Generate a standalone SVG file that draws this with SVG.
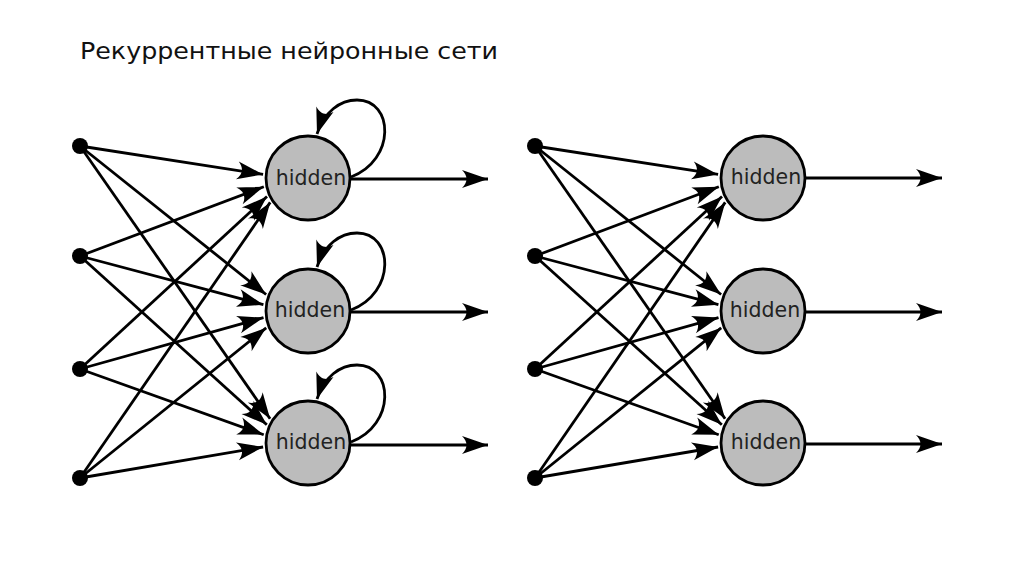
<svg xmlns="http://www.w3.org/2000/svg" width="1024" height="576" viewBox="0 0 1024 576">
<defs>
<marker id="ah" markerUnits="userSpaceOnUse" viewBox="-27 -10 29 20" markerWidth="29" markerHeight="20" refX="0" refY="0" orient="auto">
<path d="M0,0 L-26,-9 C-20,-3 -20,3 -26,9 Z" fill="#000"/>
</marker>
<style>
.c{fill:none;stroke:#000;stroke-width:2.8;marker-end:url(#ah)}
.dot{fill:#000}
.hn{fill:#bcbcbc;stroke:#000;stroke-width:2.8}
.lb{font-family:"DejaVu Sans",sans-serif;font-size:20.5px;fill:#222;text-anchor:middle}
.title{font-family:"DejaVu Sans",sans-serif;font-size:22.5px;fill:#111}
</style>
</defs>
<rect width="1024" height="576" fill="#fff"/>
<text class="title" x="80" y="59" textLength="418" lengthAdjust="spacingAndGlyphs">Рекуррентные нейронные сети</text>
<g id="connectors">
<path class="c" d="M80,146 L263.1,174.4"/>
<path class="c" d="M80,256 L263.8,186.7"/>
<path class="c" d="M80,369 L267,196.5"/>
<path class="c" d="M80,478 L270.2,202.4"/>
<path class="c" d="M80,146 L266.1,294.5"/>
<path class="c" d="M80,256 L263.4,304.7"/>
<path class="c" d="M80,369 L263.5,317.6"/>
<path class="c" d="M80,478 L266.2,327.8"/>
<path class="c" d="M80,146 L270.1,418.8"/>
<path class="c" d="M80,256 L266.8,424.8"/>
<path class="c" d="M80,369 L263.7,434.7"/>
<path class="c" d="M80,478 L263.1,447"/>
<path class="c" d="M350,179 L488,179"/>
<path class="c" d="M350,312 L488,312"/>
<path class="c" d="M350,445 L488,445"/>
<path class="c" d="M351,177 C396,160 394,100 357,100 C340,100 324,112 317,134"/>
<path class="c" d="M351,310 C396,293 394,233 357,233 C340,233 324,245 317,267"/>
<path class="c" d="M351,442 C396,425 394,365 357,365 C340,365 324,377 317,399"/>
<path class="c" d="M535,146 L718.1,174.4"/>
<path class="c" d="M535,256 L718.8,186.7"/>
<path class="c" d="M535,369 L722,196.5"/>
<path class="c" d="M535,478 L725.2,202.4"/>
<path class="c" d="M535,146 L721.1,294.5"/>
<path class="c" d="M535,256 L718.4,304.7"/>
<path class="c" d="M535,369 L718.5,317.6"/>
<path class="c" d="M535,478 L721.2,327.8"/>
<path class="c" d="M535,146 L725.1,418.8"/>
<path class="c" d="M535,256 L721.8,424.8"/>
<path class="c" d="M535,369 L718.7,434.7"/>
<path class="c" d="M535,478 L718.1,447"/>
<path class="c" d="M805,178 L942,178"/>
<path class="c" d="M805,312 L942,312"/>
<path class="c" d="M805,444 L942,444"/>
</g>
<g id="in-l1"><circle class="dot" cx="80" cy="146" r="8"/></g>
<g id="in-l2"><circle class="dot" cx="80" cy="256" r="8"/></g>
<g id="in-l3"><circle class="dot" cx="80" cy="369" r="8"/></g>
<g id="in-l4"><circle class="dot" cx="80" cy="478" r="8"/></g>
<g id="in-r1"><circle class="dot" cx="535" cy="146" r="8"/></g>
<g id="in-r2"><circle class="dot" cx="535" cy="256" r="8"/></g>
<g id="in-r3"><circle class="dot" cx="535" cy="369" r="8"/></g>
<g id="in-r4"><circle class="dot" cx="535" cy="478" r="8"/></g>
<g id="hid-l1"><circle class="hn" cx="308" cy="178" r="42"/><text class="lb" x="311" y="185">hidden</text></g>
<g id="hid-l2"><circle class="hn" cx="308" cy="311" r="42"/><text class="lb" x="310" y="317">hidden</text></g>
<g id="hid-l3"><circle class="hn" cx="308" cy="443" r="42"/><text class="lb" x="311" y="449">hidden</text></g>
<g id="hid-r1"><circle class="hn" cx="763" cy="178" r="42"/><text class="lb" x="766" y="184">hidden</text></g>
<g id="hid-r2"><circle class="hn" cx="763" cy="311" r="42"/><text class="lb" x="765" y="317">hidden</text></g>
<g id="hid-r3"><circle class="hn" cx="763" cy="443" r="42"/><text class="lb" x="766" y="449">hidden</text></g>
</svg>
